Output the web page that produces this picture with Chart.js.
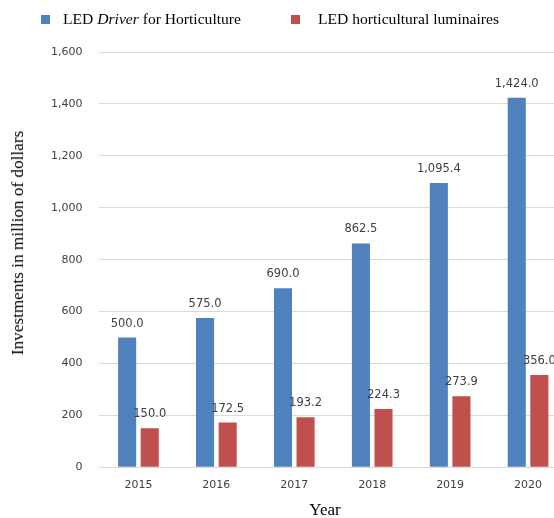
<!DOCTYPE html>
<html>
<head>
<meta charset="utf-8">
<script src="https://cdn.jsdelivr.net/npm/chart.js@4"></script>
<style>
  html, body { margin: 0; padding: 0; background: #fff; overflow: hidden; width: 554px; height: 518px; }
  #wrap { position: relative; width: 570px; height: 518px; }
  canvas { position: absolute; left: 0; top: 0; }
  .serif { font-family: "Liberation Serif", "Times New Roman", serif; color: #000; position: absolute; white-space: nowrap; }
  .sw { display: inline-block; width: 9px; height: 9px; position: absolute; }
</style>
</head>
<body>
<div id="wrap">
  <canvas id="c" width="570" height="518"></canvas>
  <span class="sw" style="left:41px; top:15px; background:#4F81BD;"></span>
  <span class="serif" style="left:63px; top:10px; font-size:15.6px;">LED <i>Driver</i> for Horticulture</span>
  <span class="sw" style="left:291px; top:15px; background:#C0504D;"></span>
  <span class="serif" style="left:318px; top:10px; font-size:15.6px;">LED horticultural luminaires</span>
  <span class="serif" id="ytitle" style="left:18px; top:243px; font-size:17.2px; transform: translate(-50%,-50%) rotate(-90deg);">Investments in million of dollars</span>
  <span class="serif" id="xtitle" style="left:325px; top:510px; font-size:17px; transform: translate(-50%,-50%);">Year</span>
</div>
<script>
const categories = ["2015", "2016", "2017", "2018", "2019", "2020"];
const seriesNames = ["LED Driver for Horticulture", "LED horticultural luminaires"];
const driverValues = [500.0, 575.0, 690.0, 862.5, 1095.4, 1424.0];
const luminaireValues = [150.0, 172.5, 193.2, 224.3, 273.9, 356.0];
const yTicks = [0, 200, 400, 600, 800, 1000, 1200, 1400, 1600];

const fmt = v => v.toLocaleString('en-US', { minimumFractionDigits: 1, maximumFractionDigits: 1 });

const valueLabels = {
  id: 'valueLabels',
  afterDatasetsDraw(chart) {
    const ctx = chart.ctx;
    ctx.save();
    ctx.font = '11.5px "DejaVu Sans", sans-serif';
    ctx.fillStyle = '#404040';
    ctx.textAlign = 'center';
    ctx.textBaseline = 'middle';
    chart.data.datasets.forEach((ds, di) => {
      chart.getDatasetMeta(di).data.forEach((bar, i) => {
        ctx.fillText(fmt(ds.data[i]), bar.x, bar.y - 14);
      });
    });
    ctx.restore();
  }
};

new Chart(document.getElementById('c'), {
  type: 'bar',
  data: {
    labels: categories,
    datasets: [
      { label: seriesNames[0], data: driverValues, backgroundColor: '#4F81BD', borderWidth: 0 },
      { label: seriesNames[1], data: luminaireValues, backgroundColor: '#C0504D', borderWidth: 0 }
    ]
  },
  options: {
    responsive: false,
    animation: false,
    devicePixelRatio: 1,
    categoryPercentage: 0.58,
    barPercentage: 0.8,
    layout: { padding: { left: 34, right: 3, top: 52, bottom: 15.5 } },
    plugins: { legend: { display: false }, tooltip: { enabled: false } },
    scales: {
      x: {
        grid: { display: false, drawTicks: false },
        border: { display: false },
        ticks: { color: '#404040', font: { family: '"DejaVu Sans", sans-serif', size: 11 }, padding: 11 }
      },
      y: {
        min: 0, max: 1600,
        afterBuildTicks: axis => { axis.ticks = yTicks.map(v => ({ value: v })); },
        grid: { color: '#d9d9d9', lineWidth: 1, drawTicks: false },
        border: { display: false },
        ticks: {
          color: '#404040',
          font: { family: '"DejaVu Sans", sans-serif', size: 11 },
          padding: 17,
          callback: v => v.toLocaleString('en-US')
        }
      }
    }
  },
  plugins: [valueLabels]
});
</script>
</body>
</html>
